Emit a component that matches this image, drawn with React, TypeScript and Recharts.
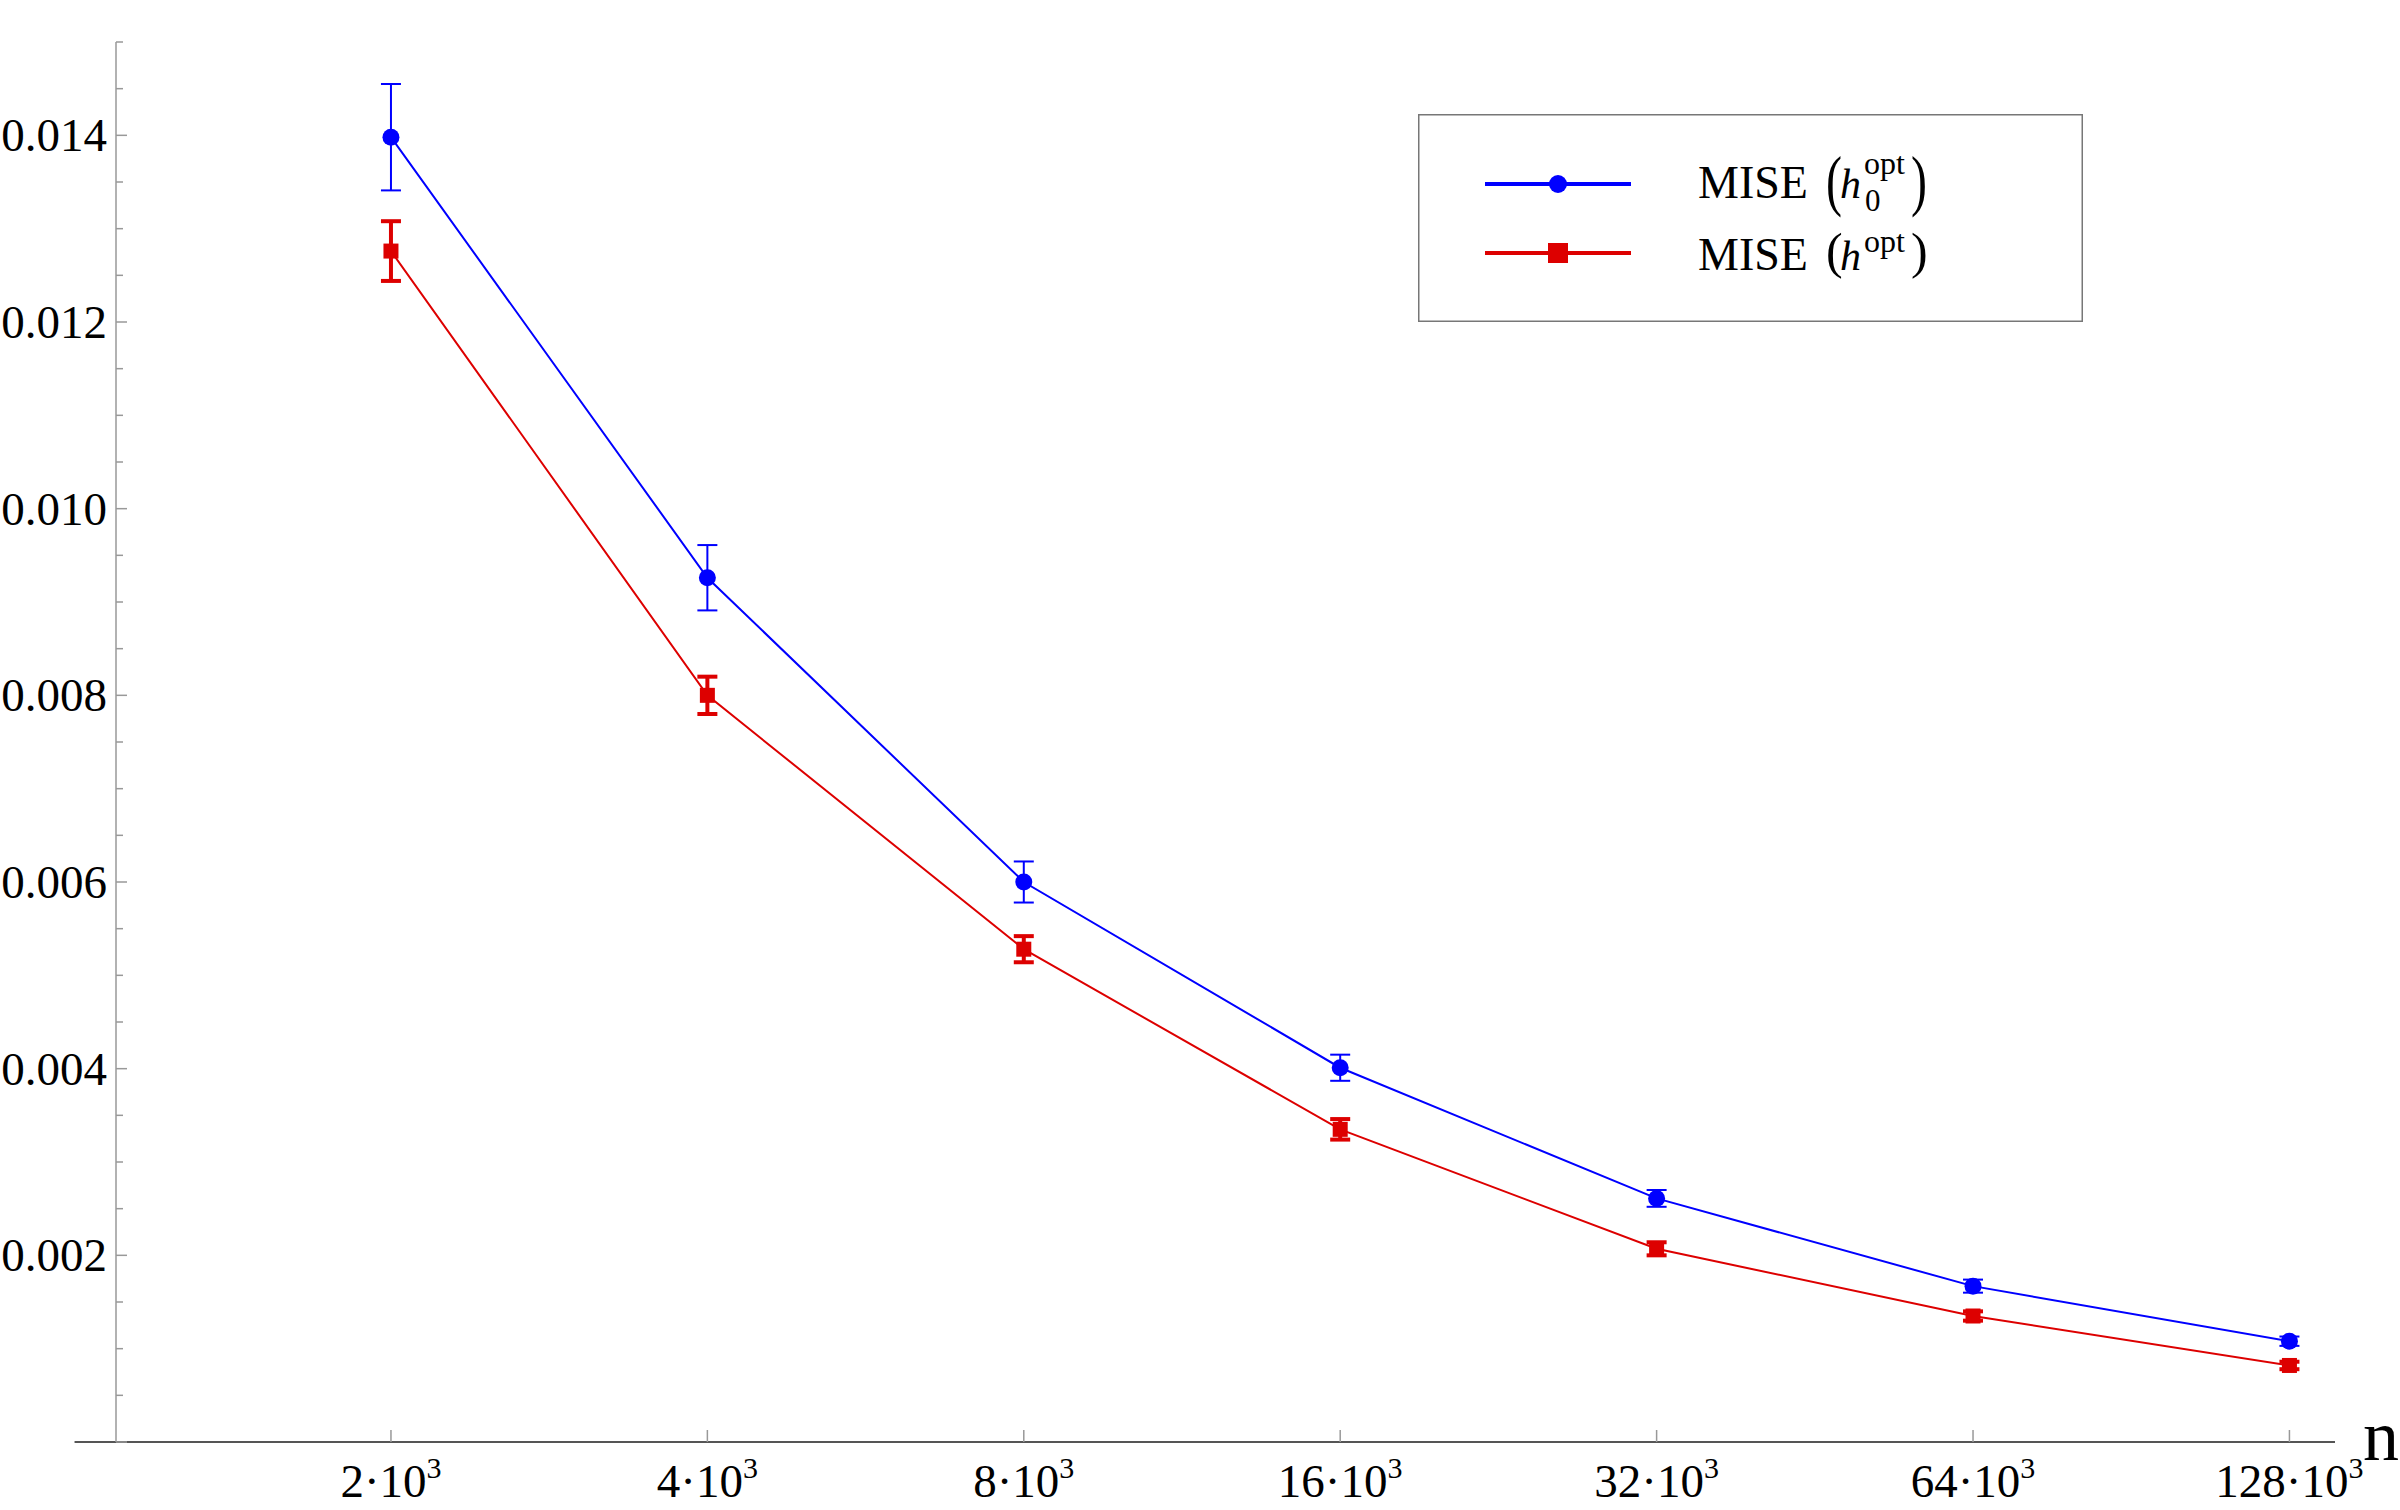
import React from "react";
import { ComposedChart, Line, XAxis, YAxis, ErrorBar, ReferenceLine, Legend, Label } from "recharts";

if (typeof document !== "undefined") {
  document.body.style.margin = "0";
}

// n = value·10^3, placed on a log2 scale
const nThousands = ["2", "4", "8", "16", "32", "64", "128"];
const log2N = [1, 2, 3, 4, 5, 6, 7];

// MISE(h0_opt) – blue circles
const miseH0 = [0.01398, 0.00926, 0.006, 0.00401, 0.00261, 0.00167, 0.00108];
const miseH0Err = [0.00057, 0.00035, 0.00022, 0.00014, 0.00009, 0.00007, 0.00005];

// MISE(h_opt) – red squares
const miseH = [0.01276, 0.008, 0.00528, 0.00335, 0.00207, 0.00135, 0.00082];
const miseHErr = [0.00032, 0.0002, 0.00014, 0.00011, 0.00007, 0.00005, 0.00004];

const yMajorTicks = [0.002, 0.004, 0.006, 0.008, 0.01, 0.012, 0.014];
const yTickLabels = ["0.002", "0.004", "0.006", "0.008", "0.010", "0.012", "0.014"];
const yAllTicks = [
  0, 0.0005, 0.001, 0.0015, 0.002, 0.0025, 0.003, 0.0035, 0.004, 0.0045, 0.005,
  0.0055, 0.006, 0.0065, 0.007, 0.0075, 0.008, 0.0085, 0.009, 0.0095, 0.01,
  0.0105, 0.011, 0.0115, 0.012, 0.0125, 0.013, 0.0135, 0.014, 0.0145, 0.015,
];

const data = log2N.map((x, i) => ({
  x,
  h0: miseH0[i],
  h0Err: miseH0Err[i],
  h: miseH[i],
  hErr: miseHErr[i],
}));

const FONT = "'Liberation Serif', 'Times New Roman', serif";
const BLUE = "#0000ff";
const RED = "#dd0000";
const AXIS_GRAY = "#999999";

const YTick = (props: any) => {
  const { x, y, payload } = props;
  const v = payload.value;
  const idx = yMajorTicks.findIndex((t) => Math.abs(t - v) < 1e-9);
  const major = idx >= 0 || Math.abs(v) < 1e-9;
  return (
    <g>
      <line x1={x} x2={x + (major ? 11 : 7)} y1={y} y2={y} stroke={AXIS_GRAY} strokeWidth={1.5} />
      {idx >= 0 && (
        <text x={x - 9} y={y + 16} textAnchor="end" fontFamily={FONT} fontSize={47} fill="#000">
          {yTickLabels[idx]}
        </text>
      )}
    </g>
  );
};

const XTick = (props: any) => {
  const { x, y, payload } = props;
  const i = log2N.indexOf(payload.value);
  return (
    <g>
      <line x1={x} x2={x} y1={y} y2={y - 12} stroke={AXIS_GRAY} strokeWidth={1.5} />
      <text x={x} y={y + 55} textAnchor="middle" fontFamily={FONT} fontSize={47} fill="#000">
        {nThousands[i]}
        {"\u00B710"}
        <tspan fontSize={30} dy={-19}>
          3
        </tspan>
      </text>
    </g>
  );
};

const BlueDot = (props: any) => {
  const { cx, cy, index } = props;
  return <circle key={`b-${index}`} cx={cx} cy={cy} r={8.5} fill={BLUE} />;
};

const RedDot = (props: any) => {
  const { cx, cy, index } = props;
  return <rect key={`r-${index}`} x={cx - 7.5} y={cy - 7.5} width={15} height={15} fill={RED} />;
};

const LegendBox = () => (
  <svg width={665} height={208} style={{ display: "block" }}>
    <rect x={0.75} y={0.75} width={663.5} height={206.5} fill="#fff" stroke="#777" strokeWidth={1.5} />
    <line x1={67} x2={213} y1={70} y2={70} stroke={BLUE} strokeWidth={4} />
    <circle cx={140} cy={70} r={9} fill={BLUE} />
    <line x1={67} x2={213} y1={139} y2={139} stroke={RED} strokeWidth={4} />
    <rect x={130} y={129} width={20} height={20} fill={RED} />
    <g fontFamily={FONT} fill="#000">
      <text x={280} y={84} fontSize={46}>MISE</text>
      <text transform="translate(408,89) scale(1,1.4)" fontSize={48}>(</text>
      <text x={422} y={84} fontSize={42} fontStyle="italic">h</text>
      <text x={447} y={97} fontSize={31}>0</text>
      <text x={446} y={60} fontSize={32}>opt</text>
      <text transform="translate(493,89) scale(1,1.4)" fontSize={48}>)</text>

      <text x={280} y={156} fontSize={46}>MISE</text>
      <text x={408} y={154} fontSize={50}>(</text>
      <text x={422} y={156} fontSize={42} fontStyle="italic">h</text>
      <text x={446} y={138} fontSize={32}>opt</text>
      <text x={493} y={154} fontSize={50}>)</text>
    </g>
  </svg>
);

export default function App() {
  return (
    <ComposedChart
      width={2400}
      height={1510}
      data={data}
      margin={{ top: 42, right: 65, bottom: 28, left: 56 }}
      style={{ background: "#fff" }}
    >
      <XAxis
        type="number"
        dataKey="x"
        domain={[0.131, 7.144]}
        ticks={log2N}
        interval={0}
        tick={<XTick />}
        tickLine={false}
        axisLine={false}
        tickSize={0}
        tickMargin={0}
        height={40}
        allowDataOverflow
      >
        <Label
          content={(p: any) => {
            const vb = p.viewBox || {};
            return (
              <text x={vb.x + vb.width + 28} y={vb.y + 18} fontFamily={FONT} fontSize={72} fill="#000">
                n
              </text>
            );
          }}
        />
      </XAxis>
      <YAxis
        type="number"
        domain={[0, 0.015]}
        ticks={yAllTicks}
        interval={0}
        tick={<YTick />}
        tickLine={false}
        tickSize={0}
        tickMargin={0}
        axisLine={{ stroke: AXIS_GRAY, strokeWidth: 1.5 }}
        width={60}
        allowDataOverflow
      />
      <ReferenceLine
        segment={[
          { x: 0, y: 0 },
          { x: 7.144, y: 0 },
        ]}
        stroke="#555"
        strokeWidth={2}
        ifOverflow="visible"
      />
      <Line
        type="linear"
        dataKey="h"
        stroke={RED}
        strokeWidth={2}
        dot={RedDot}
        activeDot={false}
        isAnimationActive={false}
      >
        <ErrorBar dataKey="hErr" direction="y" width={10} stroke={RED} strokeWidth={4} />
      </Line>
      <Line
        type="linear"
        dataKey="h0"
        stroke={BLUE}
        strokeWidth={2}
        dot={BlueDot}
        activeDot={false}
        isAnimationActive={false}
      >
        <ErrorBar dataKey="h0Err" direction="y" width={10} stroke={BLUE} strokeWidth={2} />
      </Line>
      <Legend
        layout="vertical"
        align="center"
        verticalAlign="middle"
        content={() => <LegendBox />}
        wrapperStyle={{ position: "absolute", left: 1418, top: 114, width: 665, height: 208 }}
      />
    </ComposedChart>
  );
}
